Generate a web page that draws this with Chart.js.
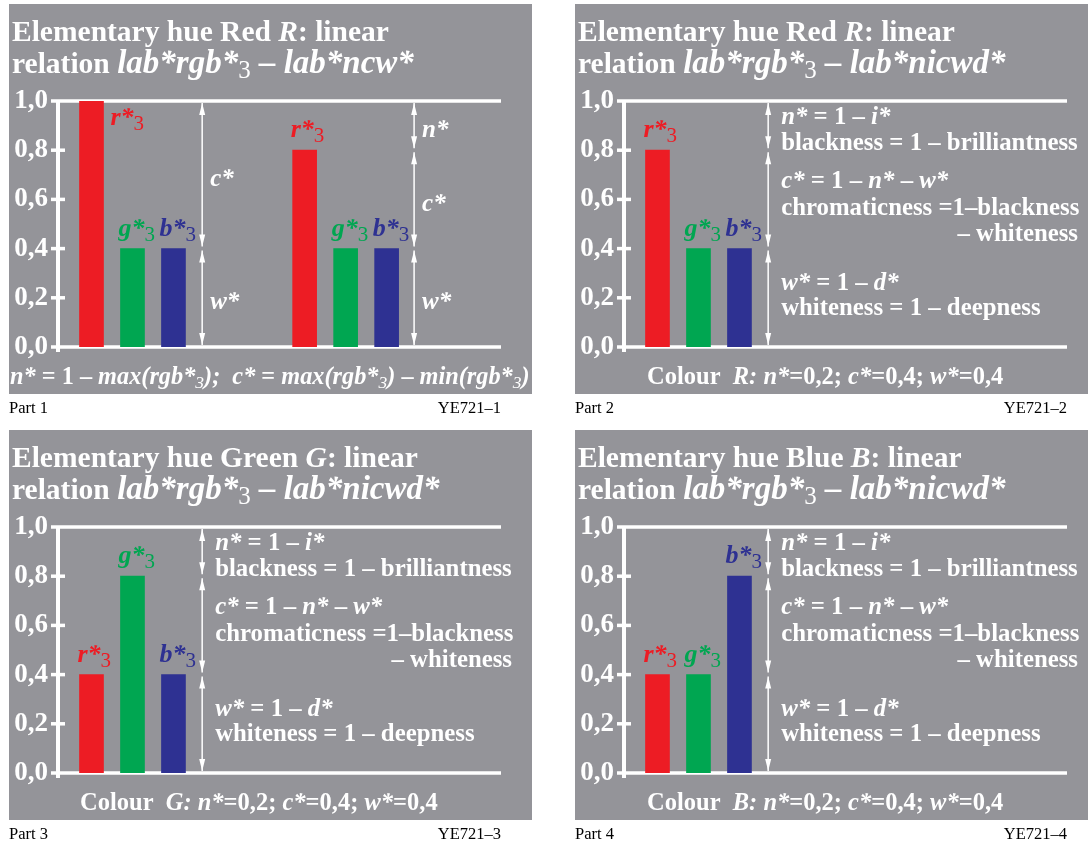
<!DOCTYPE html>
<html>
<head>
<meta charset="utf-8">
<script src="https://cdn.jsdelivr.net/npm/chart.js@4.4.1/dist/chart.umd.min.js"></script>
<style>
  body { margin: 0; width: 1088px; height: 843px; overflow: hidden; background: #fff; position: relative; }
  canvas { position: absolute; }
</style>
</head>
<body>
<canvas id="part1" width="540" height="425" style="left:9px;top:4px"></canvas>
<canvas id="part2" width="540" height="425" style="left:575px;top:4px"></canvas>
<canvas id="part3" width="540" height="425" style="left:9px;top:430px"></canvas>
<canvas id="part4" width="540" height="425" style="left:575px;top:430px"></canvas>
<script>
// --- data ---
const yTicks = [0, 0.2, 0.4, 0.6, 0.8, 1.0];
const tickLabels = ['0,0', '0,2', '0,4', '0,6', '0,8', '1,0'];
const barNames = ['r*', 'g*', 'b*'];
const barColors = ['#ed1c24', '#00a651', '#2e3192'];

// part 1: two red colours side by side
const part1Pos = [1, 2, 3, 6.2, 7.2, 8.2];
const part1Values = [1.0, 0.4, 0.4, 0.8, 0.4, 0.4];
const part1ArrowX = [3.7, 8.87];
const part1ArrowBreaks = [[0, 0.4, 1.0], [0, 0.4, 0.8, 1.0]];

// parts 2-4: one colour each
const singlePos = [1, 2, 3];
const part2Values = [0.8, 0.4, 0.4];
const part3Values = [0.4, 0.8, 0.4];
const part4Values = [0.4, 0.4, 0.8];
const singleArrowX = [3.7];
const singleArrowBreaks = [[0, 0.4, 0.8, 1.0]];

const GRAY = '#949499';
const SERIF = '"Liberation Serif", "Times New Roman", serif';

function fontOf(style, size) {
  const st = { b: 'bold', bi: 'italic bold', r: 'normal', i: 'italic' }[style];
  return st + ' ' + size + 'px ' + SERIF;
}

// runs: [text, style, size, dy]
function drawRich(ctx, runs, x, y, align, color) {
  let w = 0;
  runs.forEach(r => { ctx.font = fontOf(r[1], r[2]); w += ctx.measureText(r[0]).width; });
  let cx = align === 'right' ? x - w : (align === 'center' ? x - w / 2 : x);
  ctx.fillStyle = color || '#fff';
  ctx.textAlign = 'left';
  ctx.textBaseline = 'alphabetic';
  runs.forEach(r => {
    ctx.font = fontOf(r[1], r[2]);
    ctx.fillText(r[0], cx, y + (r[3] || 0));
    cx += ctx.measureText(r[0]).width;
  });
}

function line(ctx, x1, y1, x2, y2, lw) {
  ctx.beginPath();
  ctx.lineWidth = lw;
  ctx.moveTo(x1, y1);
  ctx.lineTo(x2, y2);
  ctx.stroke();
}

function head(ctx, x, tipY, dir) {
  ctx.beginPath();
  ctx.moveTo(x, tipY);
  ctx.lineTo(x - 3, tipY - dir * 12);
  ctx.lineTo(x + 3, tipY - dir * 12);
  ctx.closePath();
  ctx.fill();
}

const decor = {
  id: 'decor',
  beforeDraw(chart) {
    const ctx = chart.ctx;
    ctx.save();
    ctx.fillStyle = GRAY;
    ctx.fillRect(0, 0, 523, 390);
    ctx.restore();
  },
  beforeDatasetsDraw(chart) {
    const ctx = chart.ctx, y = chart.scales.y;
    const { left, right } = chart.chartArea;
    ctx.save();
    ctx.strokeStyle = '#fff';
    [0, 1].forEach(v => {
      const py = y.getPixelForValue(v);
      line(ctx, left - 7, py, right, py, 3.5);
    });
    line(ctx, left, y.getPixelForValue(1), left, y.getPixelForValue(0) + 5, 4);
    yTicks.slice(1, -1).forEach(v => {
      const py = y.getPixelForValue(v);
      line(ctx, left - 7, py, left + 7, py, 3.5);
    });
    ctx.restore();
  },
  afterDatasetsDraw(chart, args, opts) {
    const ctx = chart.ctx, x = chart.scales.x, y = chart.scales.y;
    ctx.save();
    // arrows
    ctx.strokeStyle = '#fff';
    ctx.fillStyle = '#fff';
    opts.arrowX.forEach((ax, k) => {
      const px = x.getPixelForValue(ax);
      const br = opts.arrowBreaks[k];
      for (let i = 0; i < br.length - 1; i++) {
        const pa = y.getPixelForValue(br[i]) - 2;
        const pb = y.getPixelForValue(br[i + 1]) + 2;
        line(ctx, px, pa, px, pb, 1.5);
        head(ctx, px, pa, 1);
        head(ctx, px, pb, -1);
      }
    });
    // bar labels
    const meta = chart.getDatasetMeta(0);
    const vals = chart.data.datasets[0].data;
    meta.data.forEach((el, i) => {
      const c = i % 3;
      const runs = [[barNames[c], 'bi', 26], ['3', 'r', 21, 5]];
      const w = el.width;
      if (vals[i].y >= 0.99) {
        drawRich(ctx, runs, el.x + w / 2 + 7, el.y + 24, 'left', barColors[c]);
      } else {
        drawRich(ctx, runs, el.x - w / 2 - 2, el.y - 13, 'left', barColors[c]);
      }
    });
    // titles
    drawRich(ctx, opts.title1, 3, 37);
    drawRich(ctx, opts.title2, 3, 69);
    // side texts next to arrows
    opts.notes.forEach(n => {
      const px = n.ax !== undefined ? x.getPixelForValue(n.ax) + n.dx : n.dx;
      drawRich(ctx, n.runs, px, n.by, n.align || 'left');
    });
    // bottom line
    drawRich(ctx, opts.bottom, opts.bottomX, 380);
    // footer
    ctx.fillStyle = '#000';
    ctx.font = '16.5px ' + SERIF;
    ctx.textAlign = 'left';
    ctx.fillText(opts.part, 0, 409);
    ctx.textAlign = 'right';
    ctx.fillText(opts.code, 492, 409);
    ctx.restore();
  }
};

function makeChart(id, pos, values, arrowX, arrowBreaks, deco) {
  const data = pos.map((p, i) => ({ x: p, y: values[i] }));
  new Chart(document.getElementById(id), {
    type: 'bar',
    data: {
      datasets: [{
        data: data,
        backgroundColor: pos.map((p, i) => barColors[i % 3]),
        barThickness: 24,
        borderWidth: 0
      }]
    },
    options: {
      responsive: false,
      animation: false,
      layout: { padding: { left: 0, top: 97, right: 48, bottom: 82 } },
      scales: {
        x: { type: 'linear', min: 0.183, max: 10.99, offset: false, display: false },
        y: {
          min: 0, max: 1,
          afterBuildTicks: s => { s.ticks = yTicks.map(v => ({ value: v })); },
          afterFit: s => { s.width = 49; },
          grid: { display: false, drawTicks: false },
          border: { display: false },
          ticks: {
            color: '#fff', padding: 10,
            font: { family: SERIF, size: 27, weight: 'bold' },
            callback: (v, i) => tickLabels[i]
          }
        }
      },
      plugins: {
        legend: { display: false },
        tooltip: { enabled: false },
        decor: Object.assign({ arrowX: arrowX, arrowBreaks: arrowBreaks }, deco)
      }
    },
    plugins: [decor]
  });
}

const S = 24.8;
const sideNotes = [
  { ax: 3.7, dx: 13, by: 120, runs: [['n*', 'bi', S], [' = 1 – ', 'b', S], ['i*', 'bi', S]] },
  { ax: 3.7, dx: 13, by: 146, runs: [['blackness = 1 – brilliantness', 'b', S]] },
  { ax: 3.7, dx: 13, by: 184, runs: [['c*', 'bi', S], [' = 1 – ', 'b', S], ['n*', 'bi', S], [' – ', 'b', S], ['w*', 'bi', S]] },
  { ax: 3.7, dx: 13, by: 211, runs: [['chromaticness =1–blackness', 'b', S]] },
  { dx: 503, by: 237, align: 'right', runs: [['– whiteness', 'b', S]] },
  { ax: 3.7, dx: 13, by: 286, runs: [['w*', 'bi', S], [' = 1 – ', 'b', S], ['d*', 'bi', S]] },
  { ax: 3.7, dx: 13, by: 311, runs: [['whiteness = 1 – deepness', 'b', S]] }
];

function colourLine(letter) {
  const F = 24.5;
  return [['Colour  ', 'b', F], [letter + ': ', 'bi', F], ['n*', 'bi', F], ['=0,2; ', 'b', F],
          ['c*', 'bi', F], ['=0,4; ', 'b', F], ['w*', 'bi', F], ['=0,4', 'b', F]];
}
function titleLine2(rel) {
  return [['relation ', 'b', 29.5], ['lab*rgb*', 'bi', 33], ['3', 'r', 25, 5], [' – lab*' + rel, 'bi', 33]];
}

makeChart('part1', part1Pos, part1Values, part1ArrowX, part1ArrowBreaks, {
  title1: [['Elementary hue Red ', 'b', 29.5], ['R', 'bi', 29.5], [': linear', 'b', 29.5]],
  title2: titleLine2('ncw*'),
  notes: [
    { ax: 3.7, dx: 8, by: 182, runs: [['c*', 'bi', 25]] },
    { ax: 3.7, dx: 8, by: 305, runs: [['w*', 'bi', 25]] },
    { ax: 8.87, dx: 8, by: 133, runs: [['n*', 'bi', 25]] },
    { ax: 8.87, dx: 8, by: 207, runs: [['c*', 'bi', 25]] },
    { ax: 8.87, dx: 8, by: 305, runs: [['w*', 'bi', 25]] }
  ],
  bottom: [['n*', 'bi', 24.3], [' = 1 – ', 'b', 24.3], ['max(rgb*', 'bi', 24.3], ['3', 'i', 17.5, 4], [');  ', 'bi', 24.3],
           ['c*', 'bi', 24.3], [' = ', 'b', 24.3], ['max(rgb*', 'bi', 24.3], ['3', 'i', 17.5, 4], [')', 'bi', 24.3],
           [' – ', 'b', 24.3], ['min(rgb*', 'bi', 24.3], ['3', 'i', 17.5, 4], [')', 'bi', 24.3]],
  bottomX: 1,
  part: 'Part 1', code: 'YE721–1'
});

makeChart('part2', singlePos, part2Values, singleArrowX, singleArrowBreaks, {
  title1: [['Elementary hue Red ', 'b', 29.5], ['R', 'bi', 29.5], [': linear', 'b', 29.5]],
  title2: titleLine2('nicwd*'),
  notes: sideNotes,
  bottom: colourLine('R'), bottomX: 72,
  part: 'Part 2', code: 'YE721–2'
});

makeChart('part3', singlePos, part3Values, singleArrowX, singleArrowBreaks, {
  title1: [['Elementary hue Green ', 'b', 29.5], ['G', 'bi', 29.5], [': linear', 'b', 29.5]],
  title2: titleLine2('nicwd*'),
  notes: sideNotes,
  bottom: colourLine('G'), bottomX: 71,
  part: 'Part 3', code: 'YE721–3'
});

makeChart('part4', singlePos, part4Values, singleArrowX, singleArrowBreaks, {
  title1: [['Elementary hue Blue ', 'b', 29.5], ['B', 'bi', 29.5], [': linear', 'b', 29.5]],
  title2: titleLine2('nicwd*'),
  notes: sideNotes,
  bottom: colourLine('B'), bottomX: 72,
  part: 'Part 4', code: 'YE721–4'
});
</script>
</body>
</html>
